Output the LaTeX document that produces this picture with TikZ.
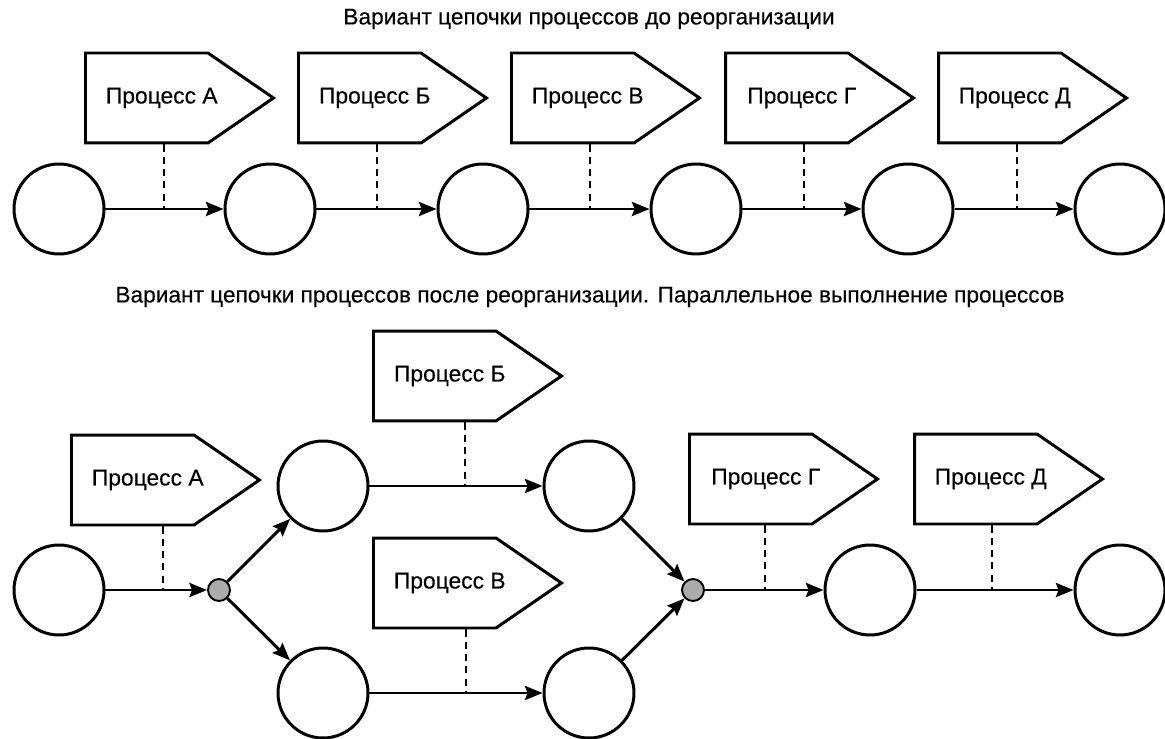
\documentclass[tikz,border=0pt]{standalone}
\usepackage{fontspec}
\setmainfont[FakeBold=0.3]{Liberation Sans}
\usetikzlibrary{shapes.symbols,arrows.meta,positioning,calc}

\begin{document}
\begin{tikzpicture}[x=0.02cm,y=-0.02cm,>={Stealth[length=10pt,width=8pt,inset=1.5pt]},line width=1.7pt,
  state/.style={circle,draw,minimum size=1.8cm,inner sep=0pt},
  joint/.style={circle,draw,fill=gray!65,minimum size=0.44cm,inner sep=0pt,line width=1.1pt},
  proc/.style={signal,signal to=east,signal from=nowhere,draw,anchor=west,minimum height=1.8cm,minimum width=3.76cm,signal pointer angle=69,inner sep=0pt,
    label={[xshift=0.3cm,font=\fontsize{13}{15}\selectfont]center:#1}},
  link/.style={dashed,line width=1.4pt,dash pattern=on 4pt off 3pt},
  title/.style={font=\fontsize{12.9}{15}\selectfont}]
\useasboundingbox (0,0) rectangle (1165,739);

% before
\node[title] (t1) at (589,19) {Вариант цепочки процессов до реорганизации};

\node[state] (c0) at (59,209) {};
\node[state] (c1) at (270,209) {};
\node[state] (c2) at (483,209) {};
\node[state] (c3) at (696,209) {};
\node[state] (c4) at (908,209) {};
\node[state] (c5) at (1120,209) {};

\node[proc=Процесс А] (pA) at (84,98) {};
\node[proc=Процесс Б] (pB) at (297,98) {};
\node[proc=Процесс В] (pC) at (510,98) {};
\node[proc=Процесс Г] (pD) at (724,98) {};
\node[proc=Процесс Д] (pE) at (937,98) {};

\foreach \a/\b in {c0/c1,c1/c2,c2/c3,c3/c4,c4/c5}
  \draw[->] (\a) -- (\b);

\foreach \p/\c in {pA/c0,pB/c1,pC/c2,pD/c3,pE/c4}{
  \coordinate (d\p) at ($(\p.south west)+(80,0)$);
  \draw[link] (d\p) -- (d\p |- \c);
}

% after
\node[title] (t2) at (590,297) {Вариант цепочки процессов после реорганизации. Параллельное выполнение процессов};

\node[state] (b0) at (59,590) {};
\node[joint] (j1) at (219,590) {};
\node[state] (bu1) at (323,486) {};
\node[state] (bl1) at (323,693) {};
\node[state] (bu2) at (589,486) {};
\node[state] (bl2) at (589,693) {};
\node[joint] (j2) at (693,590) {};
\node[state] (b3) at (870,590) {};
\node[state] (b4) at (1120,590) {};

\node[proc=Процесс А] (qA) at (70,480) {};
\node[proc=Процесс Б] (qB) at (372,376) {};
\node[proc=Процесс В] (qC) at (372,583) {};
\node[proc=Процесс Г] (qD) at (688,479) {};
\node[proc=Процесс Д] (qE) at (913,479) {};

\foreach \a/\b in {b0/j1,j1/bu1,j1/bl1,bu1/bu2,bl1/bl2,bu2/j2,bl2/j2,j2/b3,b3/b4}
  \draw[->] (\a) -- (\b);

\foreach \p/\c/\dx in {qA/b0/93,qB/bu1/93,qC/bl1/94,qD/b3/77,qE/b3/79}{
  \coordinate (d\p) at ($(\p.south west)+(\dx,0)$);
  \draw[link] (d\p) -- (d\p |- \c);
}
\end{tikzpicture}
\end{document}
